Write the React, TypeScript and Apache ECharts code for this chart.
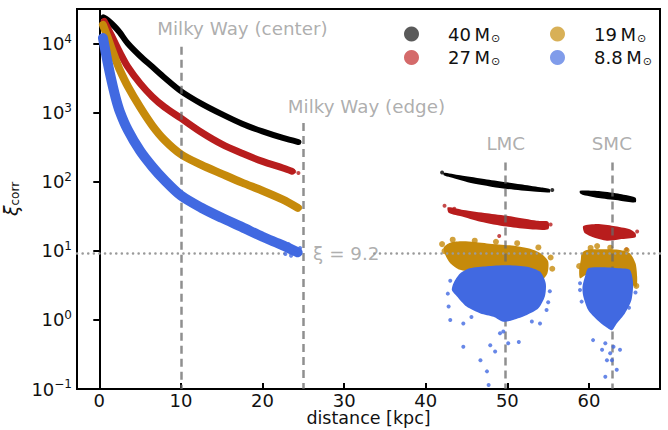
import React, { useEffect, useRef } from "react";
import * as echarts from "echarts";

const FONT = "DejaVu Sans";

const massLabels = ["40", "27", "19", "8.8"];
const colors = ["#000000", "#b81d1d", "#c68a0b", "#4169e1"];
const legendColors = ["#5a5a5a", "#d46a6a", "#d8b057", "#809cea"];
const bandWidths = [6, 7, 8, 10];

// Milky Way bands (distance kpc, xi_corr)
const mwDist40 = [0.5, 1, 1.5, 2, 2.5, 3.5, 5, 6.5, 8, 10, 12.5, 15, 17.5, 20, 22.5, 24.4];
const mwXi40 = [24000, 22000, 19500, 17000, 14500, 10000, 6600, 4600, 3200, 2050, 1350, 950, 690, 535, 430, 375];
const mwDist27 = [0.6, 1, 1.5, 2, 2.5, 3.5, 5, 6.5, 8, 10, 12.5, 15, 17.5, 20, 22.5, 23.6];
const mwXi27 = [21000, 17000, 13000, 9800, 7500, 4600, 2650, 1700, 1200, 830, 520, 350, 258, 197, 158, 142];
const mwDist19 = [0.45, 1, 1.5, 2, 2.5, 3.5, 5, 6.5, 8, 10, 12.5, 15, 17.5, 20, 22.5, 24.3];
const mwXi19 = [18600, 12500, 8500, 5900, 4200, 2400, 1200, 650, 400, 250, 175, 130, 97, 74, 55, 42];
const mwDist88 = [0.45, 0.7, 1, 1.5, 2, 2.5, 3.5, 5, 6.5, 8, 10, 12.5, 15, 17.5, 20, 22.5, 24.3];
const mwXi88 = [12000, 8500, 5500, 2900, 1650, 1050, 560, 280, 165, 105, 63, 42, 30, 22, 16, 12, 9.5];

// LMC / SMC cloud outlines (distance kpc, xi_corr)
const lmc40 = [[42.2,135],[44.2,124],[47.5,108],[51.6,92],[54.0,83],[55.2,78],[55.2,70],[53.2,72],[49.5,80],[45.4,97],[43.0,116],[42.2,124]];
const smc40 = [[58.9,74],[61.4,72.6],[63.8,66.4],[65.7,58.8],[65.7,50.3],[63.8,53.2],[61.4,57.5],[59.3,64.3],[58.9,68]];
const lmc27 = [[42.7,42.6],[44.6,39],[47.5,34.9],[50.7,31.2],[53.6,27.3],[55.0,26.4],[55.0,20.5],[52.8,20.5],[49.9,22.4],[46.7,26.4],[44.2,31.9],[42.8,35.6]];
const smc27 = [[59.3,22.9],[61.0,24.4],[63.0,22.9],[65.0,20.5],[65.7,17.9],[65.7,15.7],[63.8,14.7],[62.2,14.0],[60.5,15.7],[59.5,17.9],[59.3,20]];
const lmc19 = [[42.2,11.2],[43.0,13.1],[44.6,13.7],[47.5,12.8],[50.3,12],[52.8,10.7],[54.2,9.0],[55.0,7.0],[54.9,4.7],[54.2,3.8],[51.6,4.2],[47.5,4.7],[44.2,5.3],[43.0,6.6],[42.4,8.7]];
const smc19 = [[59.1,9.2],[59.7,10.3],[61.4,10.5],[63.8,10.3],[65.0,9.2],[65.7,6.6],[65.9,4.2],[65.8,3.0],[65.0,3.4],[62.2,4.2],[59.7,4.5],[58.9,4.0],[58.8,5.3],[59.0,7.4]];
const lmc88 = [[43.4,3.4],[44.2,4.7],[45.4,5.6],[47.5,6.0],[49.9,6.2],[52.4,5.9],[54.0,5.0],[54.7,3.4],[54.6,2.2],[53.8,1.47],[52.4,1.18],[50.7,1.0],[49.5,0.94],[48.3,1.11],[46.7,1.24],[45.0,1.56],[43.8,2.2],[43.2,2.7]];
const smc88 = [[59.5,4.2],[59.9,5.6],[61.4,5.8],[63.8,5.6],[65.0,5.3],[65.4,3.4],[65.2,1.94],[64.4,1.24],[63.4,0.89],[62.8,0.71],[62.0,0.8],[61.0,1.0],[59.9,1.39],[59.3,2.2],[59.2,3.0]];

// scattered individual points
const pts40 = [[55.5,76],[42.0,136],[24.4,376]];
const pts27 = [[49.0,16.4],[64.6,10.5],[42.3,45],[55.3,24],[24.4,134],[23.9,140],[43.5,40.5],[54.6,22],[65.9,19]];
const pts19 = [[42.0,12.5],[43.3,14.5],[55.3,8.0],[55.5,5.5],[61.0,11.7],[58.8,6.0],[65.8,3.1],[24.5,42],[46.0,14.0],[48.6,13.5],[51.2,12.9],[53.8,11.2],[60.2,11.0],[62.6,11.1],[64.6,10.2],[42.3,9.9]];
const pts88 = [[44.6,0.41],[46.7,0.26],[47.5,0.18],[47.7,0.114],[47.9,0.43],[48.5,0.35],[49.1,0.64],[50.1,0.46],[51.4,0.48],[43.0,1.0],[42.8,1.56],[44.6,0.89],[54.8,1.39],[54.0,0.89],[49.5,0.68],[60.5,0.51],[61.6,0.37],[62.0,0.46],[62.6,0.33],[63.0,0.41],[63.8,0.37],[62.2,0.26],[62.8,0.26],[63.4,0.19],[62.0,0.15],[59.1,1.84],[58.9,2.7],[22.8,9.0],[23.5,8.5],[24.0,10.5],[24.5,9.0],[23.2,12.5],[24.6,11],[42.7,2.4],[43.0,3.7],[55.2,2.6],[55.0,1.8],[53.0,0.95],[45.6,1.1],[58.9,3.4],[65.7,2.5],[64.9,1.5]];

const mwDists = [mwDist40, mwDist27, mwDist19, mwDist88];
const mwXis = [mwXi40, mwXi27, mwXi19, mwXi88];
const clouds = [[lmc40, smc40], [lmc27, smc27], [lmc19, smc19], [lmc88, smc88]];
const points = [pts40, pts27, pts19, pts88];
const pointSizes = [4, 4, 6, 4];

// reference lines
const refLines = [
  { x: 10, top: 9000 },
  { x: 25, top: 710 },
  { x: 49.7, top: 190 },
  { x: 62.8, top: 190 },
];
const xiThreshold = 9.2;
const annotations = [
  { name: "Milky Way (center)", d: 7.1, xi: 16750, align: "left" },
  { name: "Milky Way (edge)", d: 23.1, xi: 1245, align: "left" },
  { name: "LMC", d: 49.8, xi: 363, align: "center" },
  { name: "SMC", d: 62.8, xi: 363, align: "center" },
  { name: "\u03be = 9.2", d: 26.2, xi: 9.2, align: "left" },
];

const X_MIN = -2.73;
const X_MAX = 68.7;
const Y_MIN = 0.1;
const Y_MAX = 31623;

export default function App() {
  const ref = useRef<HTMLDivElement>(null);
  useEffect(() => {
    if (!ref.current) return;
    const chart = echarts.init(ref.current, null, { renderer: "svg" });
    const series: any[] = [];
    massLabels.forEach((m, i) => {
      series.push({
        type: "line",
        name: m,
        data: mwDists[i].map((d, k) => [d, mwXis[i][k]]),
        smooth: 0.3,
        symbol: "none",
        lineStyle: { color: colors[i], width: bandWidths[i], cap: "round", join: "round" },
        z: 2 + i,
      });
      series.push({
        type: "custom",
        name: m,
        data: clouds[i].map((p) => p[0]),
        renderItem: (params: any, api: any) => {
          const poly = clouds[i][params.dataIndex];
          const pts = poly.map((p) => api.coord(p));
          return {
            type: "polygon",
            shape: { points: pts, smooth: 0.25 },
            style: { fill: colors[i] },
          };
        },
        z: 2 + i,
      });
      series.push({
        type: "scatter",
        name: m,
        data: points[i],
        symbolSize: pointSizes[i],
        itemStyle: { color: colors[i] },
        z: 2 + i,
      });
    });
    series.push({
      type: "line",
      name: "refs",
      data: [],
      z: 10,
      markLine: {
        silent: true,
        symbol: "none",
        label: { show: false },
        data: [
          ...refLines.map((r) => [
            { coord: [r.x, r.top], lineStyle: { color: "rgba(105,105,105,0.75)", width: 2.5, type: [8, 5] } },
            { coord: [r.x, Y_MIN] },
          ]),
          [
            { coord: [X_MIN, xiThreshold], lineStyle: { color: "#9a9a9a", width: 2.5, type: [0.1, 5.5], cap: "round" } },
            { coord: [25.3, xiThreshold] },
          ],
          [
            { coord: [33.7, xiThreshold], lineStyle: { color: "#9a9a9a", width: 2.5, type: [0.1, 5.5], cap: "round" } },
            { coord: [X_MAX, xiThreshold] },
          ],
        ],
      },
    });
    series.push({
      type: "scatter",
      name: "annotations",
      symbolSize: 0,
      z: 11,
      data: annotations.map((a) => ({
        value: [a.d, a.xi],
        name: a.name,
        label: {
          show: true,
          position: a.align === "left" ? "right" : "inside",
          distance: 0,
          formatter: a.name,
          color: "#999999",
          fontSize: 18.3,
          fontFamily: FONT,
        },
      })),
    });

    const legendText = {
      fontFamily: FONT,
      color: "#111",
      rich: {
        a: { fontSize: 18, fontFamily: FONT, color: "#111", padding: [0, 0, 0, 24] },
        s: { fontSize: 11, fontFamily: FONT, color: "#111", padding: [8, 0, 0, 1] },
      },
    };
    const legendFormatter = (name: string) => `{a|${name}\u2009M}{s|\u2299}`;
    const mkLegend = (idx: number[], left: number) => ({
      orient: "vertical",
      left,
      top: 20,
      itemGap: 5,
      itemWidth: 15,
      itemHeight: 15,
      icon: "circle",
      selectedMode: false,
      formatter: legendFormatter,
      textStyle: legendText,
      data: idx.map((i) => ({ name: massLabels[i], icon: "circle", itemStyle: { color: legendColors[i] } })),
    });

    const supMap: Record<string, string> = { "-1": "\u22121" };
    chart.setOption({
      animation: false,
      backgroundColor: "#ffffff",
      textStyle: { fontFamily: FONT },
      legend: [mkLegend([0, 1], 399), mkLegend([2, 3], 545)],
      grid: {
        left: 77,
        right: 8,
        top: 9,
        bottom: 41,
        containLabel: false,
        outerBoundsMode: "none",
        show: true,
        borderColor: "#000",
        borderWidth: 2,
        backgroundColor: "transparent",
      },
      xAxis: {
        type: "value",
        min: X_MIN,
        max: X_MAX,
        splitNumber: 7,
        name: "distance [kpc]",
        nameLocation: "middle",
        nameGap: 22,
        nameMoveOverlap: false,
        nameTextStyle: { fontSize: 17.5, lineHeight: 14, color: "#111", fontFamily: FONT, verticalAlign: "top" },
        axisLine: { lineStyle: { color: "#000", width: 2 } },
        axisTick: { inside: true, length: 6, lineStyle: { color: "#000", width: 2 } },
        axisLabel: { fontSize: 18, lineHeight: 16, color: "#111", margin: 3, showMinLabel: false, showMaxLabel: false, fontFamily: FONT },
        splitLine: { show: false },
      },
      yAxis: {
        type: "log",
        logBase: 10,
        min: Y_MIN,
        max: Y_MAX,
        name: "{x|\u03be}{s|corr}",
        nameLocation: "middle",
        nameGap: 35,
        nameRotate: 90,
        nameTextStyle: {
          color: "#111",
          rich: {
            x: { fontSize: 19, fontStyle: "italic", fontFamily: FONT, color: "#111" },
            s: { fontSize: 12, fontFamily: FONT, color: "#111", padding: [8, 0, 0, 0] },
          },
        },
        axisLine: { lineStyle: { color: "#000", width: 2 } },
        axisTick: { inside: false, length: 6, lineStyle: { color: "#000", width: 2 } },
        axisLabel: {
          margin: 5,
          showMaxLabel: false,
          formatter: (v: number) => {
            const e = String(Math.round(Math.log10(v)));
            return `{b|10}{e|${supMap[e] ?? e}}`;
          },
          rich: {
            b: { fontSize: 18, color: "#111", fontFamily: FONT },
            e: { fontSize: 12, color: "#111", fontFamily: FONT, padding: [0, 0, 10, 0] },
          },
        },
        splitLine: { show: false },
        minorTick: { show: false },
      },
      series,
    });
    return () => chart.dispose();
  }, []);
  return <div ref={ref} style={{ width: 668, height: 430, position: "absolute", left: 0, top: 0 }} />;
}
